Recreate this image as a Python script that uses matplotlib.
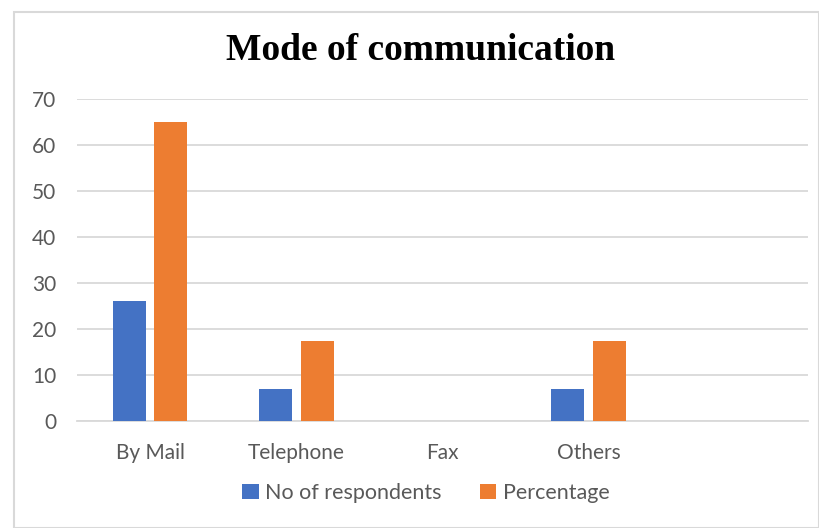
import matplotlib
matplotlib.use("Agg")
import matplotlib.pyplot as plt
import numpy as np
from matplotlib.patches import Rectangle

categories = ["By Mail", "Telephone", "Fax", "Others", ""]
respondents = [26, 7, 0, 7, 0]
percentage = [65, 17.5, 0, 17.5, 0]
yticks = [0, 10, 20, 30, 40, 50, 60, 70]

plt.rcParams['font.family'] = ['Lato', 'DejaVu Sans']

fig = plt.figure(figsize=(8.19, 5.28), dpi=100)
W, H = 819, 528
ax = fig.add_axes([77 / W, 1 - 421 / H, (808 - 77) / W, (421 - 99) / H])

x = np.arange(len(categories))
bw = 0.225
gap = 0.06
ax.bar(x - (bw + gap) / 2, respondents, bw, color="#4472C4", label="No of respondents", zorder=3)
ax.bar(x + (bw + gap) / 2, percentage, bw, color="#ED7D31", label="Percentage", zorder=3)

ax.set_xlim(-0.5, len(categories) - 0.5)
ax.set_ylim(0, 70)
ax.set_yticks(yticks)
ax.set_xticks(x)
ax.set_xticklabels(categories)
ax.grid(axis="y", color="#d9d9d9", linewidth=1.3, zorder=0)
for s in ["top", "right", "left"]:
    ax.spines[s].set_visible(False)
ax.spines["bottom"].set_color("#d9d9d9")
ax.spines["bottom"].set_linewidth(1.3)
ax.tick_params(axis="both", length=0, labelsize=15, labelcolor="#595959")
ax.tick_params(axis="y", pad=15)
ax.tick_params(axis="x", pad=16)

fig.text(421 / W, 1 - 51 / H, "Mode of communication", ha="center", va="center",
         fontsize=27, fontweight="bold", family=["Liberation Serif", "DejaVu Serif"])

leg = fig.legend(loc="center", bbox_to_anchor=(426 / W, 1 - 493 / H), ncol=2, frameon=False,
                 fontsize=15.5, handlelength=0.75, handleheight=0.75, handletextpad=0.3,
                 columnspacing=1.8)
for t in leg.get_texts():
    t.set_color("#595959")

fig.patches.append(Rectangle((14 / W, 0), 1 - 14 / W, 1 - 12 / H, transform=fig.transFigure,
                             fill=False, edgecolor="#d9d9d9", linewidth=1.5))

fig.savefig("out.png", dpi=100)
